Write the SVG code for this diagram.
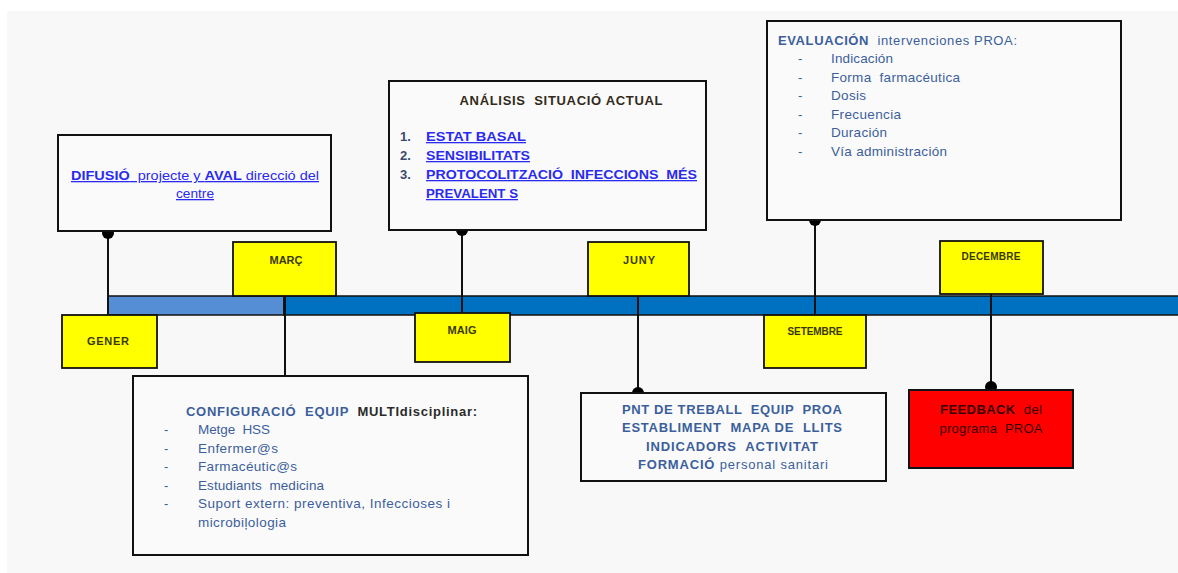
<svg xmlns="http://www.w3.org/2000/svg" width="1178" height="573" viewBox="0 0 1178 573" xml:space="preserve">
<style>
.box{fill:#fafafa;stroke:#111;stroke-width:2}
.mon{fill:#ffff00;stroke:#111;stroke-width:1.8}
.ml{font-family:"Liberation Sans",Arial,sans-serif;font-weight:bold;font-size:11px;fill:#3a3a00;text-anchor:middle}
.t{font-family:"Liberation Sans",Arial,sans-serif;font-size:13px;white-space:pre}
.it{font-size:13.5px}
.lnk{fill:#2b2bf0;text-decoration:underline}
.nv{fill:#3c5f9c}
.b{font-weight:bold}
.seg{stroke:#111;stroke-width:1.5}
.con{stroke:#111;stroke-width:2;fill:none}
</style>
<rect x="0" y="0" width="1178" height="573" fill="#ffffff"/>
<rect x="7" y="11" width="1171" height="562" fill="#f8f8f8"/>
<g id="timeline">
<rect class="seg" x="108" y="296" width="176" height="19" fill="#558ed5"/>
<rect class="seg" x="284" y="296" width="178" height="19" fill="#0070c0"/>
<rect class="seg" x="462" y="296" width="176" height="19" fill="#0070c0"/>
<rect class="seg" x="638" y="296" width="177" height="19" fill="#0070c0"/>
<rect class="seg" x="815" y="296" width="176" height="19" fill="#0070c0"/>
<rect class="seg" x="991" y="296" width="190" height="19" fill="#0070c0"/>
</g>
<g id="connectors">
<line class="con" x1="108" y1="233" x2="108" y2="315"/>
<line class="con" x1="285" y1="296" x2="285" y2="381"/>
<line class="con" x1="462" y1="230" x2="462" y2="313"/>
<line class="con" x1="638" y1="296" x2="638" y2="393"/>
<line class="con" x1="815" y1="220" x2="815" y2="315"/>
<line class="con" x1="991" y1="294" x2="991" y2="387"/>
<circle cx="108" cy="233" r="6" fill="#000"/>
<circle cx="285" cy="381" r="6" fill="#000"/>
<circle cx="462" cy="230" r="6" fill="#000"/>
<circle cx="638" cy="393" r="6" fill="#000"/>
<circle cx="815" cy="220" r="6" fill="#000"/>
<circle cx="991" cy="387" r="6" fill="#000"/>
</g>
<g id="gener"><rect class="mon" x="62" y="315" width="95" height="53"/><text class="ml" x="108" y="345" textLength="42">GENER</text></g>
<g id="marc"><rect class="mon" x="233" y="242" width="103" height="54"/><text class="ml" x="286" y="264" textLength="33">MARÇ</text></g>
<g id="maig"><rect class="mon" x="415" y="313" width="95" height="49"/><text class="ml" x="462" y="334" textLength="29">MAIG</text></g>
<g id="juny"><rect class="mon" x="588" y="242" width="101" height="54"/><text class="ml" x="639" y="264" textLength="32">JUNY</text></g>
<g id="setembre"><rect class="mon" x="764" y="315" width="102" height="53"/><text class="ml" x="815" y="335" style="font-size:10px" textLength="55">SETEMBRE</text></g>
<g id="decembre"><rect class="mon" x="940" y="241" width="103" height="53"/><text class="ml" x="991" y="260" style="font-size:10px" textLength="59">DECEMBRE</text></g>
<g id="difusio">
<rect class="box" x="58" y="135" width="273" height="96"/>
<text class="t lnk" x="195" y="180" text-anchor="middle" font-size="13.5" textLength="248" lengthAdjust="spacingAndGlyphs"><tspan class="b">DIFUSIÓ</tspan>  projecte y <tspan class="b">AVAL</tspan> direcció del</text>
<text class="t lnk" x="195" y="198" text-anchor="middle" font-size="13.5" textLength="38" lengthAdjust="spacingAndGlyphs">centre</text>
</g>
<g id="analisis">
<rect class="box" x="389" y="81" width="317" height="149"/>
<text class="t b" x="561" y="105" text-anchor="middle" style="fill:#332a1a" textLength="203">ANÁLISIS  SITUACIÓ ACTUAL</text>
<text class="t b" x="400" y="141" style="fill:#3a4a70">1.</text>
<text class="t b" x="400" y="160" style="fill:#3a4a70">2.</text>
<text class="t b" x="400" y="179" style="fill:#3a4a70">3.</text>
<text class="t b lnk" x="426" y="141" textLength="100" lengthAdjust="spacingAndGlyphs">ESTAT BASAL</text>
<text class="t b lnk" x="426" y="160" textLength="104" lengthAdjust="spacingAndGlyphs">SENSIBILITATS</text>
<text class="t b lnk" x="426" y="179" textLength="271" lengthAdjust="spacingAndGlyphs">PROTOCOLITZACIÓ  INFECCIONS  MÉS</text>
<text class="t b lnk" x="426" y="198" textLength="92" lengthAdjust="spacingAndGlyphs">PREVALENT S</text>
</g>
<g id="evaluacion">
<rect class="box" x="767" y="21" width="354" height="199"/>
<text class="t nv" x="778" y="45" textLength="239"><tspan class="b">EVALUACIÓN</tspan>  intervenciones PROA:</text>
<text class="t nv" x="798" y="63">-</text><text class="t it nv" x="831" y="63" textLength="62">Indicación</text>
<text class="t nv" x="798" y="82">-</text><text class="t it nv" x="831" y="82" textLength="129">Forma  farmacéutica</text>
<text class="t nv" x="798" y="100">-</text><text class="t it nv" x="831" y="100" textLength="35">Dosis</text>
<text class="t nv" x="798" y="119">-</text><text class="t it nv" x="831" y="119" textLength="70">Frecuencia</text>
<text class="t nv" x="798" y="137">-</text><text class="t it nv" x="831" y="137" textLength="56">Duración</text>
<text class="t nv" x="798" y="156">-</text><text class="t it nv" x="831" y="156" textLength="116">Vía administración</text>
</g>
<g id="configuracio">
<rect class="box" x="133" y="376" width="395" height="179"/>
<text class="t b nv" x="186" y="416" textLength="291">CONFIGURACIÓ  EQUIP  <tspan style="fill:#2a2a2a">MULTIdisciplinar:</tspan></text>
<text class="t nv" x="164" y="434">-</text><text class="t it nv" x="198" y="434" textLength="72">Metge  HSS</text>
<text class="t nv" x="164" y="453">-</text><text class="t it nv" x="198" y="453" textLength="80">Enfermer@s</text>
<text class="t nv" x="164" y="471">-</text><text class="t it nv" x="198" y="471" textLength="99">Farmacéutic@s</text>
<text class="t nv" x="164" y="490">-</text><text class="t it nv" x="198" y="490" textLength="126">Estudiants  medicina</text>
<text class="t nv" x="164" y="508">-</text><text class="t it nv" x="198" y="508" textLength="252">Suport extern: preventiva, Infeccioses i</text>
<text class="t it nv" x="198" y="527" textLength="88">microbiļologia</text>
</g>
<g id="pnt">
<rect class="box" x="581" y="393" width="305" height="88"/>
<text class="t b nv" x="732" y="414" text-anchor="middle" textLength="220">PNT DE TREBALL  EQUIP  PROA</text>
<text class="t b nv" x="732" y="432" text-anchor="middle" textLength="220">ESTABLIMENT  MAPA DE  LLITS</text>
<text class="t b nv" x="732" y="451" text-anchor="middle" textLength="172">INDICADORS  ACTIVITAT</text>
<text class="t b nv" x="733" y="469" text-anchor="middle" textLength="190">FORMACIÓ <tspan style="font-weight:normal">personal sanitari</tspan></text>
</g>
<g id="feedback">
<rect x="909" y="390" width="164" height="78" fill="#ff0000" stroke="#111" stroke-width="2"/>
<text class="t" x="991" y="414" text-anchor="middle" style="fill:#3a0000" textLength="102"><tspan class="b">FEEDBACK</tspan>  del</text>
<text class="t" x="991" y="433" text-anchor="middle" style="fill:#3a0000" textLength="103">programa  PROA</text>
</g>
</svg>
